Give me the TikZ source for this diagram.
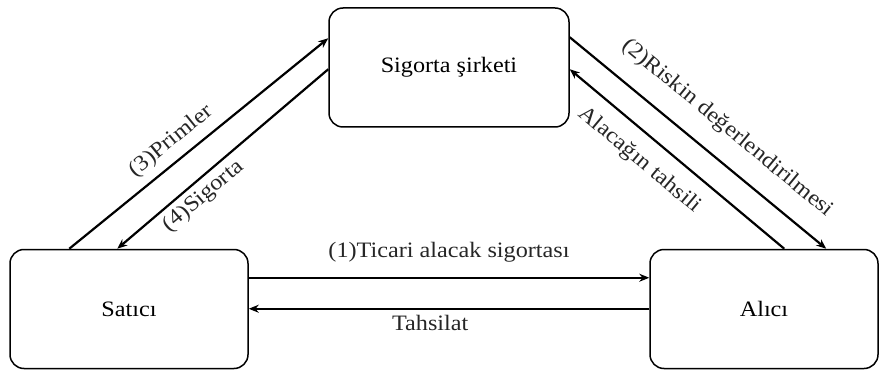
\documentclass[tikz,border=0pt]{standalone}
\usepackage{fontspec}
\setmainfont[FakeStretch=1.1]{Liberation Serif}
\usetikzlibrary{arrows.meta,calc}
\begin{document}
\begin{tikzpicture}[x=1pt,y=-1pt,
  box/.style={draw, line width=1.5pt, rounded corners=14pt, minimum width=#1,
    minimum height=119pt, inner sep=0pt, font=\fontsize{22}{26}\selectfont},
  arr/.style={line width=2.2pt, -{Stealth[length=10pt,width=8pt]}},
  lbl/.style={font=\fontsize{22}{26}\selectfont, text=black!85, inner sep=2pt}]
\useasboundingbox (0,0) rectangle (882,371);
\node[box=240pt] (sig) at (449,67.5) {Sigorta şirketi};
\node[box=238pt] (sat) at (129,309) {Satıcı};
\node[box=228pt] (ali) at (764,309) {Alıcı};
% left pair
\draw[arr] ([xshift=60pt]sat.north west) -- ([yshift=-31pt]sig.north west)
  node[lbl, sloped, pos=0.44, above=6pt] {(3)Primler};
\draw[arr] ([yshift=-62pt]sig.north west) -- ([xshift=108pt]sat.north west)
  node[lbl, sloped, pos=0.64, below=3pt] {(4)Sigorta};
% right pair
\draw[arr] ([yshift=-30pt]sig.north east) -- ([xshift=177pt]ali.north west)
  node[lbl, sloped, pos=0.54, above=17pt] {(2)Riskin değerlendirilmesi};
\draw[arr] ([xshift=135pt]ali.north west) -- ([yshift=-62pt]sig.north east)
  node[lbl, sloped, pos=0.6, below=12pt] {Alacağın tahsili};
% bottom pair
\draw[arr] ([yshift=-29pt]sat.north east) -- ([yshift=-29pt]ali.north west)
  node[lbl, pos=0.5, above=12pt] {(1)Ticari alacak sigortası};
\draw[arr] ([yshift=-60pt]ali.north west) -- ([yshift=-60pt]sat.north east)
  node[lbl, pos=0.547, below=3pt] {Tahsilat};
\end{tikzpicture}
\end{document}
